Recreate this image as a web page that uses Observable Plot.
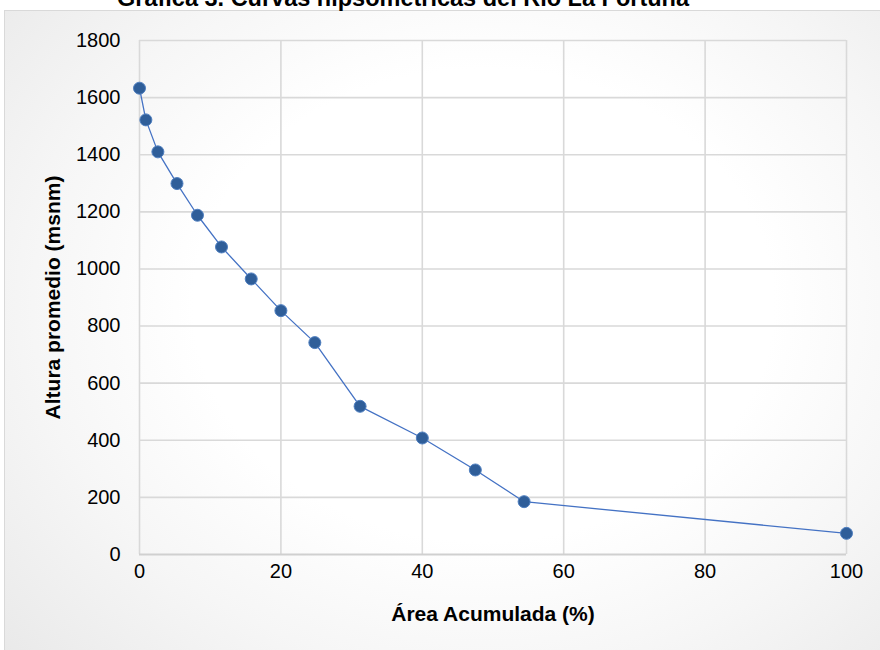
<!DOCTYPE html>
<html>
<head>
<meta charset="utf-8">
<script src="https://cdn.jsdelivr.net/npm/d3@7"></script>
<script src="https://cdn.jsdelivr.net/npm/@observablehq/plot@0.6"></script>
<style>
  html, body { margin: 0; padding: 0; background: #fff; }
  #wrap { position: relative; width: 880px; height: 650px; overflow: hidden; font-family: "Liberation Sans", Arial, sans-serif; }
  #panel {
    position: absolute; left: 4px; top: 10px; width: 920px; height: 700px;
    border: 1px solid #d9d9d9;
    background: radial-gradient(ellipse 70% 75% at 52% 42%, #ffffff 45%, #f6f6f6 70%, #e9e9e9 100%);
  }
  #title {
    position: absolute; left: 403px; top: -13px; transform: translateX(-50%);
    white-space: nowrap; font-weight: bold; font-size: 23.5px; line-height: 23.5px; color: #000;
  }
  #chart { position: absolute; left: 0; top: 0; }
</style>
</head>
<body>
<div id="wrap">
  <div id="panel"></div>
  <div id="title">Gráfica 3. Curvas hipsométricas del Río La Fortuna</div>
  <div id="chart"></div>
</div>
<script>
// Curva hipsométrica: área acumulada (%) frente a altura promedio (msnm)
const areaAcumulada = [0, 0.9, 2.6, 5.3, 8.2, 11.6, 15.8, 20.0, 24.8, 31.2, 40.0, 47.5, 54.4, 100];
const alturaPromedio = [1633, 1522, 1410, 1299, 1188, 1077, 965, 854, 742, 519, 408, 296, 185, 74];

const xTicks = [0, 20, 40, 60, 80, 100];
const yTicks = [0, 200, 400, 600, 800, 1000, 1200, 1400, 1600, 1800];
const xLabel = "Área Acumulada (%)";
const yLabel = "Altura promedio (msnm)";

const points = areaAcumulada.map((a, i) => ({area: a, altura: alturaPromedio[i]}));

const gridColor = "#d9d9d9";
const lineColor = "#4472c4";

const chart = Plot.plot({
  width: 880,
  height: 650,
  marginLeft: 139,
  marginRight: 34,
  marginTop: 40,
  marginBottom: 96,
  style: {background: "transparent", fontFamily: "'Liberation Sans', Arial, sans-serif", color: "#000"},
  x: {domain: [0, 100]},
  y: {domain: [0, 1800]},
  marks: [
    Plot.gridX(xTicks, {stroke: gridColor, strokeOpacity: 1, strokeWidth: 1.6}),
    Plot.gridY(yTicks.filter(d => d > 0), {stroke: gridColor, strokeOpacity: 1, strokeWidth: 1.6}),
    Plot.ruleY([0], {stroke: "#d0d0d0", strokeWidth: 1.8}),
    Plot.axisX(xTicks, {tickSize: 0, tickPadding: 9, fontSize: 20, label: null, tickFormat: d => String(d)}),
    Plot.axisY(yTicks, {tickSize: 0, tickPadding: 19, fontSize: 20, label: null, tickFormat: d => String(d)}),
    Plot.text([xLabel], {text: d => d, frameAnchor: "bottom", dy: 66, fontSize: 21, fontWeight: "bold", fill: "#000"}),
    Plot.text([yLabel], {text: d => d, frameAnchor: "left", textAnchor: "middle", dx: -86, rotate: -90, fontSize: 21, fontWeight: "bold", fill: "#000"}),
    Plot.line(points, {x: "area", y: "altura", stroke: lineColor, strokeWidth: 1.3}),
    Plot.dot(points, {x: "area", y: "altura", r: 6, fill: "#2f5e99", stroke: "#4f7fc0", strokeWidth: 1})
  ]
});
document.getElementById("chart").appendChild(chart);
</script>
</body>
</html>
